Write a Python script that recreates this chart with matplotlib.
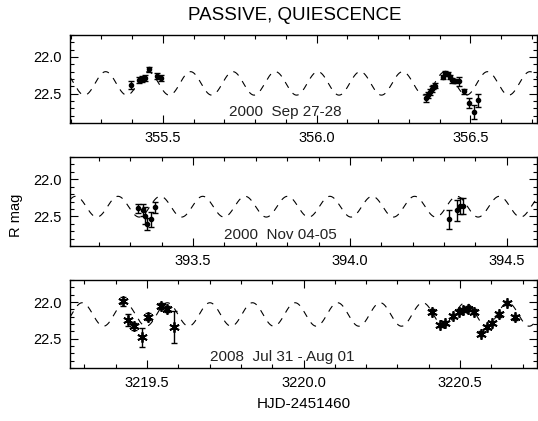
import numpy as np
import matplotlib
matplotlib.use("Agg")
import matplotlib.pyplot as plt
from matplotlib.ticker import MultipleLocator

plt.rcParams['font.family'] = ['Liberation Sans', 'DejaVu Sans']

# ---------------- data ----------------
# Panel 1: 2000 Sep 27-28
p1_x = [355.398, 355.422, 355.432, 355.442, 355.456, 355.481, 355.494,
        356.356, 356.362, 356.369, 356.375, 356.380, 356.386, 356.410, 356.419,
        356.426, 356.434, 356.442, 356.451, 356.462, 356.481, 356.497, 356.511, 356.526]
p1_y = [22.38, 22.31, 22.30, 22.29, 22.17, 22.26, 22.29,
        22.56, 22.52, 22.48, 22.44, 22.41, 22.39, 22.27, 22.22,
        22.23, 22.27, 22.32, 22.33, 22.33, 22.47, 22.63, 22.75, 22.59]
p1_e = [0.05, 0.04, 0.04, 0.04, 0.03, 0.04, 0.04,
        0.06, 0.04, 0.04, 0.04, 0.03, 0.03, 0.03, 0.03,
        0.03, 0.03, 0.03, 0.03, 0.06, 0.03, 0.07, 0.10, 0.09]

# Panel 2: 2000 Nov 04-05
p2_x = [393.326, 393.340, 393.347, 393.353, 393.366, 393.378,
        394.316, 394.340, 394.350, 394.359]
p2_y = [22.39, 22.42, 22.49, 22.60, 22.54, 22.38,
        22.54, 22.42, 22.36, 22.36]
p2_e = [0.06, 0.08, 0.12, 0.08, 0.10, 0.07,
        0.13, 0.14, 0.11, 0.11]

# Panel 3: 2008 Jul 31 - Aug 01
p3_x = [3219.424, 3219.440, 3219.459, 3219.483, 3219.502, 3219.544, 3219.563, 3219.586,
        3220.410, 3220.436, 3220.452, 3220.479, 3220.498, 3220.511, 3220.527,
        3220.546, 3220.566, 3220.585, 3220.601, 3220.626, 3220.651, 3220.676]
p3_y = [21.99, 22.25, 22.33, 22.48, 22.20, 22.06, 22.10, 22.34,
        22.13, 22.31, 22.29, 22.19, 22.13, 22.11, 22.09,
        22.13, 22.43, 22.34, 22.29, 22.17, 22.01, 22.21]
p3_e = [0.06, 0.08, 0.05, 0.13, 0.05, 0.04, 0.04, 0.22,
        0.03, 0.03, 0.03, 0.03, 0.03, 0.03, 0.03,
        0.03, 0.03, 0.03, 0.03, 0.03, 0.03, 0.03]

# sinusoidal model parameters per panel: (time of maximum light, period, mean mag, semi-amplitude)
models = [(356.004, 0.138, 22.36, 0.16),
          (393.936, 0.135, 22.37, 0.14),
          (3219.973, 0.136, 22.17, 0.16)]

xlims = [(355.198, 356.717), (393.108, 394.596), (3219.254, 3220.746)]
ylim = (22.9, 21.7)
major_x = [[355.5, 356.0, 356.5], [393.5, 394.0, 394.5], [3219.5, 3220.0, 3220.5]]
major_xlab = [["355.5", "356.0", "356.5"], ["393.5", "394.0", "394.5"],
              ["3219.5", "3220.0", "3220.5"]]
ytick_vals = [22.0, 22.5]
ytick_labs = ["22.0", "22.5"]
labels = ["2000  Sep 27-28", "2000  Nov 04-05", "2008  Jul 31 - Aug 01"]
label_xpos = [0.46, 0.45, 0.455]

panels = [(p1_x, p1_y, p1_e), (p2_x, p2_y, p2_e), (p3_x, p3_y, p3_e)]

# ---------------- figure ----------------
W, H = 538, 421
fig = plt.figure(figsize=(W / 100, H / 100), dpi=100)

boxes = [(35, 123), (157, 246), (280, 368)]
left_px, right_px = 70, 537

for i, ((top, bot), (x, y, e)) in enumerate(zip(boxes, panels)):
    ax = fig.add_axes([left_px / W, 1 - bot / H, (right_px - left_px) / W, (bot - top) / H])
    x0, x1 = xlims[i]
    t0, P, m0, A = models[i]
    xx = np.linspace(x0, x1, 2000)
    ax.plot(xx, m0 - A * np.cos(2 * np.pi * (xx - t0) / P), color='black',
            lw=0.8, dashes=(6, 6))
    if i < 2:
        ax.errorbar(x, y, yerr=e, fmt='o', ms=3, color='black', ecolor='black',
                    elinewidth=1.0, capsize=2, capthick=1.0)
    else:
        ax.errorbar(x, y, yerr=e, fmt='none', ecolor='black',
                    elinewidth=1.0, capsize=2, capthick=1.0)
        ax.plot(x, y, linestyle='none', marker=(6, 2, 0), ms=7.5, mew=1.3, color='black')
    ax.set_xlim(x0, x1)
    ax.set_ylim(*ylim)
    ax.set_xticks(major_x[i])
    ax.set_xticklabels(major_xlab[i])
    ax.xaxis.set_minor_locator(MultipleLocator(0.1))
    ax.set_yticks(ytick_vals)
    ax.set_yticklabels(ytick_labs)
    ax.yaxis.set_minor_locator(MultipleLocator(0.1))
    ax.tick_params(which='both', direction='in', top=True, right=True,
                   labelsize=10.5, width=0.8, pad=6)
    ax.tick_params(which='major', length=6)
    ax.tick_params(which='minor', length=3)
    for s in ax.spines.values():
        s.set_linewidth(1.0)
    ax.text(label_xpos[i], 0.12, labels[i], transform=ax.transAxes,
            ha='center', va='center', fontsize=11, color='#222222')
    if i == 2:
        ax.set_xlabel("HJD-2451460", fontsize=11, labelpad=5)

fig.text(295 / W, 1 - 16 / H, "PASSIVE, QUIESCENCE", ha='center', va='center',
         fontsize=13.5)
fig.text(16 / W, 1 - 215 / H, "R mag", rotation=90, ha='center', va='center',
         fontsize=10.5)

fig.savefig("out.png", dpi=100)
